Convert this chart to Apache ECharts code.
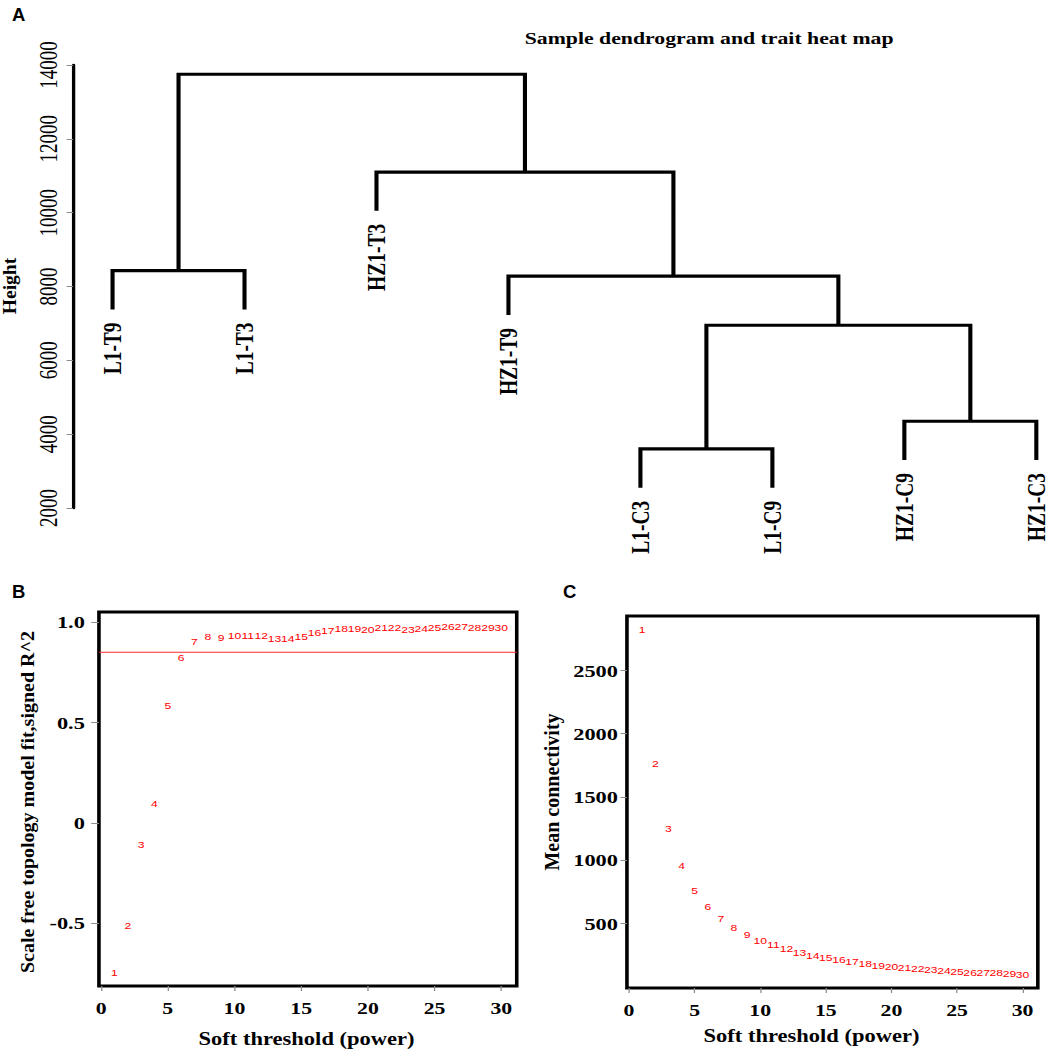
<!DOCTYPE html>
<html><head><meta charset="utf-8">
<script src="https://cdn.jsdelivr.net/npm/echarts@6/dist/echarts.min.js"></script>
<style>
html,body{margin:0;padding:0;background:#fff;overflow:hidden;width:1052px;height:1051px;}
#chart{width:822px;height:1051px;transform:scaleX(1.28);transform-origin:0 0;}
</style></head><body><div id="chart"></div>
<script>
// ---------- Panel A: sample dendrogram ----------
const leafLabels = ['L1-T9','L1-T3','HZ1-T3','HZ1-T9','L1-C3','L1-C9','HZ1-C9','HZ1-C3'];
// merge steps (hclust style): negative = leaf (1-based, in leaf order), positive = earlier step
const mergeLeft   = [-5, -7, 1, -4, -1, -3, 5];
const mergeRight  = [-6, -8, 2,  3, -2,  4, 6];
const mergeHeight = [3600, 4350, 6950, 8280, 8430, 11100, 13750];
const leafHang = 1050;
const heightTicks = [2000, 4000, 6000, 8000, 10000, 12000, 14000];

// ---------- Panel B / C: soft threshold ----------
const powers = [1,2,3,4,5,6,7,8,9,10,11,12,13,14,15,16,17,18,19,20,21,22,23,24,25,26,27,28,29,30];
const scaleFreeR2 = [-0.744,-0.513,-0.106,0.098,0.585,0.824,0.904,0.929,0.924,0.932,0.932,0.932,0.919,0.919,0.927,0.949,0.960,0.968,0.968,0.965,0.973,0.973,0.965,0.968,0.973,0.976,0.976,0.973,0.973,0.973];
const r2Cutoff = 0.85;
const r2Ticks = [-0.5, 0, 0.5, 1.0];
const r2TickLabels = ['-0.5', '0', '0.5', '1.0'];
const meanConnectivity = [2821,1763,1250,958,763,637,540,471,416,366,332,303,269,251,232,216,198,185,170,163,155,147,137,132,124,116,111,111,103,100];
const connTicks = [500, 1000, 1500, 2000, 2500];
const powerTicks = [0, 5, 10, 15, 20, 25, 30];

// ---------- build dendrogram geometry from merge table ----------
const nodeX = [], nodeH = [];
function childX(c){ return c < 0 ? -c : nodeX[c-1]; }
function childH(c, parentH){ return c < 0 ? parentH - leafHang : nodeH[c-1]; }
const dendroSegs = [];
const leafEnds = [];
for (let i = 0; i < mergeHeight.length; i++) {
  const l = mergeLeft[i], r = mergeRight[i], h = mergeHeight[i];
  const xl = childX(l), xr = childX(r);
  dendroSegs.push([xl, childH(l, h), xr, childH(r, h), h]);
  if (l < 0) leafEnds.push([-l, h - leafHang, -l - 1]);
  if (r < 0) leafEnds.push([-r, h - leafHang, -r - 1]);
  nodeX.push((xl + xr) / 2); nodeH.push(h);
}
const xMin = -0.16, xMax = 31.16;

const SERIF = '"Liberation Serif", "Times New Roman", serif';
const SANS = '"Liberation Sans", Arial, sans-serif';
const S = 1.28;

function txt(text, x, y, size, opts) {
  opts = opts || {};
  return {
    type: 'text', x: x, y: y, rotation: opts.rot || 0,
    scaleX: opts.scaleX || 1, scaleY: opts.scaleY || 1,
    style: {
      text: text, fill: '#000',
      font: (opts.weight || 'bold') + ' ' + size + 'px ' + (opts.family || SERIF),
      align: opts.align || 'center', verticalAlign: opts.va || 'middle',
      textAlign: opts.align || 'center', textVerticalAlign: opts.va || 'middle'
    }
  };
}

const tickStyle = { color: '#8c8c8c', width: 1 };
function plain(v) { return String(v); }
function boxXAxis(gi) {
  return {
    type: 'value', gridIndex: gi, min: xMin, max: xMax,
    axisLine: { show: false, onZero: false },
    axisTick: { show: true, customValues: powerTicks, length: 5, lineStyle: tickStyle },
    axisLabel: { customValues: powerTicks, color: '#000', fontFamily: SERIF, fontWeight: 'bold', fontSize: 17, margin: 14, formatter: plain },
    splitLine: { show: false }
  };
}
function labelSeries(xi, yi, vals) {
  return {
    type: 'custom', xAxisIndex: xi, yAxisIndex: yi, silent: true, clip: false,
    data: powers.map((p, i) => [p, vals[i]]),
    renderItem: function (params, api) {
      const pt = api.coord([api.value(0), api.value(1)]);
      return {
        type: 'text', x: pt[0], y: pt[1],
        style: { text: String(api.value(0)), fill: '#ff0000', font: '9.5px ' + SANS,
          align: 'center', verticalAlign: 'middle', textAlign: 'center', textVerticalAlign: 'middle' }
      };
    }
  };
}

const chart = echarts.init(document.getElementById('chart'), null, { renderer: 'svg' });
chart.setOption({
  animation: false,
  backgroundColor: '#fff',
  grid: [
    { left: 57, top: 65, width: 765, height: 443 },
    { left: 77.3, top: 612, width: 326.4, height: 374, show: true, borderColor: '#000', borderWidth: 2.8, backgroundColor: 'transparent' },
    { left: 489.8, top: 616, width: 321, height: 372, show: true, borderColor: '#000', borderWidth: 2.8, backgroundColor: 'transparent' }
  ],
  xAxis: [
    { type: 'value', gridIndex: 0, min: 0.7, max: 8.12, show: false },
    boxXAxis(1),
    boxXAxis(2)
  ],
  yAxis: [
    { type: 'value', gridIndex: 0, min: 2000, max: 14000, interval: 2000,
      axisLine: { show: true, onZero: false, lineStyle: { color: '#000', width: 2.6 } },
      axisTick: { show: true, length: 5, lineStyle: tickStyle },
      axisLabel: { rotate: 90, color: '#000', fontFamily: SERIF, fontSize: 19, margin: 9, formatter: plain },
      splitLine: { show: false } },
    { type: 'value', gridIndex: 1, min: -0.812, max: 1.05,
      axisLine: { show: false, onZero: false },
      axisTick: { show: true, customValues: r2Ticks, length: 6, lineStyle: tickStyle },
      axisLabel: { customValues: r2Ticks, color: '#000', fontFamily: SERIF, fontWeight: 'bold', fontSize: 17.5, margin: 11,
        formatter: function (v) { const i = r2Ticks.indexOf(v); return i >= 0 ? r2TickLabels[i] : String(v); } },
      splitLine: { show: false } },
    { type: 'value', gridIndex: 2, min: -9, max: 2930,
      axisLine: { show: false, onZero: false },
      axisTick: { show: true, customValues: connTicks, length: 5, lineStyle: tickStyle },
      axisLabel: { customValues: connTicks, color: '#000', fontFamily: SERIF, fontWeight: 'bold', fontSize: 17.5, margin: 7, formatter: plain },
      splitLine: { show: false } }
  ],
  series: [
    { type: 'custom', xAxisIndex: 0, yAxisIndex: 0, silent: true, clip: false,
      data: dendroSegs,
      renderItem: function (params, api) {
        const a = api.coord([api.value(0), api.value(1)]);
        const b = api.coord([api.value(0), api.value(4)]);
        const c = api.coord([api.value(2), api.value(4)]);
        const d = api.coord([api.value(2), api.value(3)]);
        return { type: 'polyline', shape: { points: [a, b, c, d] },
          style: { stroke: '#000', lineWidth: 3.2, fill: null, lineJoin: 'miter' } };
      } },
    { type: 'custom', xAxisIndex: 0, yAxisIndex: 0, silent: true, clip: false,
      data: leafEnds,
      renderItem: function (params, api) {
        const p = api.coord([api.value(0), api.value(1)]);
        return { type: 'text', x: p[0], y: p[1] + 13, rotation: Math.PI / 2,
          style: { text: leafLabels[api.value(2)], fill: '#000', font: 'bold 19.5px ' + SERIF,
            align: 'right', verticalAlign: 'middle', textAlign: 'right', textVerticalAlign: 'middle' } };
      } },
    labelSeries(1, 1, scaleFreeR2),
    { type: 'line', xAxisIndex: 1, yAxisIndex: 1, silent: true, symbol: 'none',
      data: [[xMin, r2Cutoff], [xMax, r2Cutoff]],
      lineStyle: { color: '#ff2a2a', width: 1 } },
    labelSeries(2, 2, meanConnectivity)
  ],
  graphic: [
    txt('A', 12 / S, 5, 18.5, { family: SANS, align: 'left', va: 'top', scaleX: 1 / S }),
    txt('B', 12 / S, 582, 18.5, { family: SANS, align: 'left', va: 'top', scaleX: 1 / S }),
    txt('C', 563 / S, 582, 18.5, { family: SANS, align: 'left', va: 'top', scaleX: 1 / S }),
    txt('Sample dendrogram and trait heat map', 554, 38, 17),
    txt('Height', 8, 286, 19.5, { rot: Math.PI / 2, scaleY: 0.72 }),
    txt('Scale free topology model fit,signed R^2', 22, 802, 20, { rot: Math.PI / 2, scaleY: 0.74 }),
    txt('Soft threshold (power)', 239.5, 1039, 17.6, { scaleY: 1.1 }),
    txt('Mean connectivity', 431, 792, 20, { rot: Math.PI / 2, scaleY: 0.78 }),
    txt('Soft threshold (power)', 634, 1036, 17.6, { scaleY: 1.1 })
  ]
});
</script></body></html>
